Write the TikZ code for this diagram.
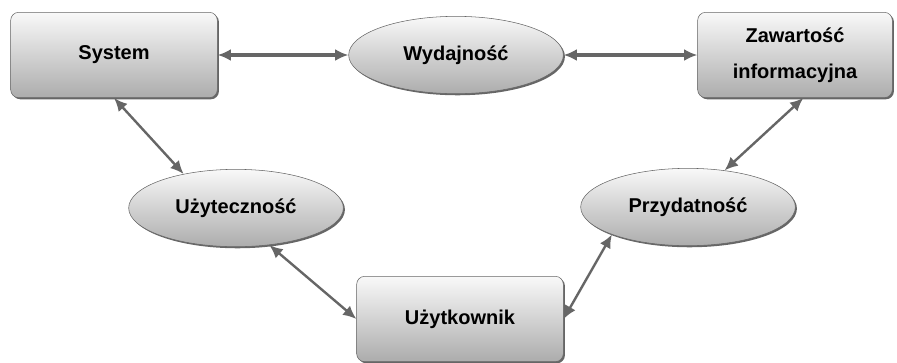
\documentclass[tikz,border=0pt]{standalone}
\usepackage{fontspec}
\setmainfont{Liberation Sans}
\usetikzlibrary{shapes.geometric,shadows,arrows.meta}

\tikzset{
  blok/.style={draw=gray!80!black, rounded corners=6pt, top color=gray!5, bottom color=gray!65,
    drop shadow={shadow xshift=1.2pt, shadow yshift=-1.2pt, fill=gray!80!black, opacity=1},
    minimum width=155pt, minimum height=64pt, inner sep=0pt, align=center,
    font=\fontsize{15}{27}\selectfont\bfseries},
  owal/.style={ellipse, draw=gray!80!black, top color=gray!5, bottom color=gray!65,
    drop shadow={shadow xshift=1.2pt, shadow yshift=-1.2pt, fill=gray!80!black, opacity=1},
    minimum width=161pt, minimum height=58pt, inner sep=0pt,
    font=\fontsize{15}{18}\selectfont\bfseries},
  rel/.style={{Latex[length=10pt,width=9pt]}-{Latex[length=10pt,width=9pt]}, draw=gray!80!black, line width=1.8pt},
  relh/.style={rel, line width=2.6pt}
}

\begin{document}
\begin{tikzpicture}[x=0.75pt, y=-0.75pt]
\useasboundingbox (0,0) rectangle (897,362);
\node[blok] (sys) at (114,55) {System};
\node[owal] (wyd) at (456,55) {Wydajność};
\draw[relh] (sys.east) -- (wyd.west);
\node[blok, minimum width=146pt] (zaw) at (795,55) {Zawartość\\informacyjna};
\draw[relh] (wyd.east) -- (zaw.west);
\node[owal] (uzy) at (236,208) {Użyteczność};
\draw[rel] (sys.south) -- (uzy.147);
\node[blok] (uzk) at (460,319) {Użytkownik};
\draw[rel] (uzy.-48) -- (uzk.west);
\node[owal] (prz) at (688,207) {Przydatność};
\draw[rel] (uzk.east) -- (prz.south west);
\draw[rel] (prz.45) -- (zaw.-79);
\end{tikzpicture}
\end{document}
